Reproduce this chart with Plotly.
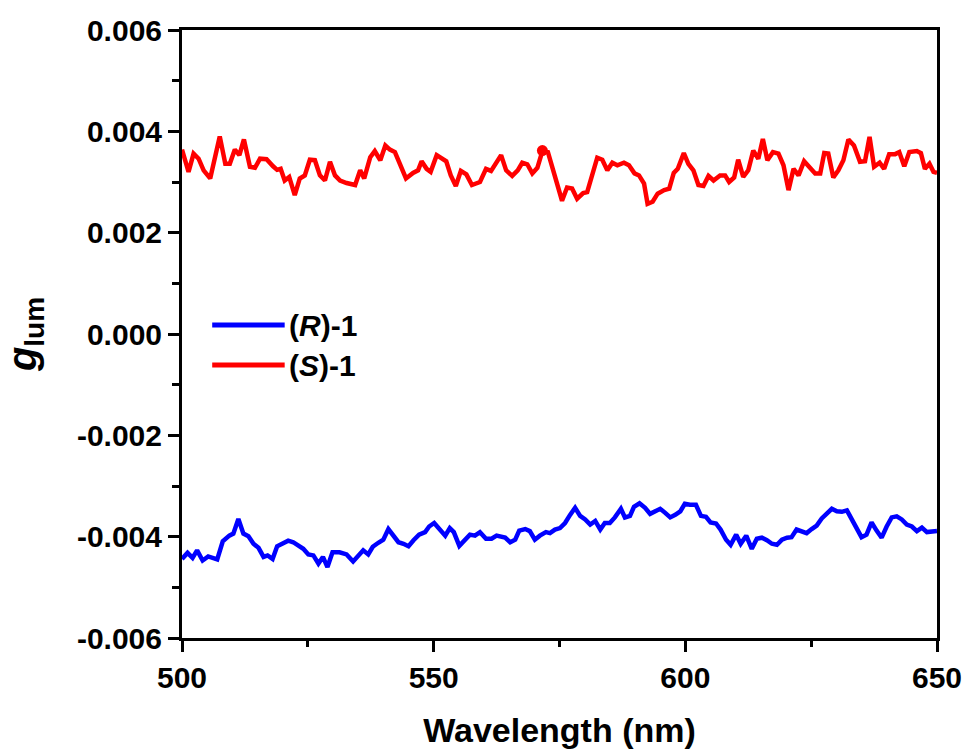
import plotly.graph_objects as go

# (S)-1 red series
s_x = [500.0, 501.3, 502.3, 503.3, 504.3, 505.6, 507.5, 508.6, 509.5, 510.5, 511.4, 512.3, 513.5, 514.5,
       515.5, 516.8, 518.1, 518.9, 519.6, 520.4, 521.3, 522.4, 523.4, 524.4, 525.4, 526.4, 527.4, 528.4,
       529.4, 530.4, 531.4, 532.7, 534.4, 535.4, 536.2, 537.4, 538.3, 539.4, 540.4, 541.3, 542.3, 543.3,
       544.5, 545.9, 546.9, 547.6, 548.6, 549.4, 550.6, 552.5, 553.4, 554.4, 555.4, 556.5, 557.6, 559.2,
       560.4, 561.4, 562.2, 563.4, 564.4, 565.6, 566.7, 567.6, 568.6, 569.6, 570.6, 571.6, 572.7, 573.9,
       575.5, 576.5, 577.5, 578.5, 579.7, 580.5, 581.7, 582.5, 583.5, 584.5, 585.5, 586.5, 587.8, 588.8,
       589.9, 590.8, 591.8, 592.5, 593.5, 594.5, 595.8, 596.8, 597.7, 598.5, 599.7, 600.6, 601.6, 602.6,
       603.6, 604.6, 605.6, 606.9, 607.9, 608.7, 609.7, 610.5, 611.5, 612.5, 613.5, 614.5, 615.4, 616.3,
       617.4, 618.5, 619.5, 620.5, 621.5, 622.5, 623.6, 624.8, 625.8, 626.8, 627.6, 628.4, 629.4, 630.4,
       631.4, 632.4, 633.5, 634.7, 635.7, 636.6, 637.5, 638.6, 639.5, 640.5, 641.7, 642.5, 643.5, 644.5,
       646.0, 646.8, 647.6, 648.5, 649.3, 650.0]
s_y = [0.00364, 0.00320, 0.00356, 0.00346, 0.00323, 0.00307, 0.00390, 0.00336, 0.00336, 0.00364, 0.00353,
       0.00384, 0.00330, 0.00328, 0.00346, 0.00345, 0.00331, 0.00324, 0.00326, 0.00303, 0.00310, 0.00274,
       0.00307, 0.00313, 0.00344, 0.00343, 0.00313, 0.00303, 0.00340, 0.00313, 0.00303, 0.00298, 0.00294,
       0.00323, 0.00307, 0.00349, 0.00361, 0.00343, 0.00372, 0.00364, 0.00359, 0.00333, 0.00307, 0.00318,
       0.00323, 0.00341, 0.00326, 0.00320, 0.00353, 0.00341, 0.00313, 0.00292, 0.00322, 0.00315, 0.00294,
       0.00300, 0.00326, 0.00322, 0.00333, 0.00353, 0.00323, 0.00312, 0.00323, 0.00338, 0.00335, 0.00317,
       0.00328, 0.00361, 0.00359, 0.00317, 0.00263, 0.00289, 0.00287, 0.00267, 0.00278, 0.00280, 0.00323,
       0.00348, 0.00344, 0.00323, 0.00338, 0.00333, 0.00338, 0.00333, 0.00317, 0.00313, 0.00297, 0.00257,
       0.00261, 0.00277, 0.00284, 0.00287, 0.00318, 0.00326, 0.00357, 0.00336, 0.00323, 0.00294, 0.00292,
       0.00312, 0.00303, 0.00313, 0.00313, 0.00300, 0.00309, 0.00344, 0.00310, 0.00323, 0.00362, 0.00346,
       0.00385, 0.00343, 0.00359, 0.00356, 0.00333, 0.00284, 0.00326, 0.00313, 0.00341, 0.00326, 0.00317,
       0.00317, 0.00357, 0.00356, 0.00309, 0.00323, 0.00343, 0.00384, 0.00372, 0.00340, 0.00341, 0.00389,
       0.00330, 0.00338, 0.00326, 0.00355, 0.00355, 0.00359, 0.00331, 0.00359, 0.00361, 0.00357, 0.00326,
       0.00336, 0.00320, 0.00318]

# stray dot on the red curve
dot_x = [571.6]
dot_y = [0.00362]

# (R)-1 blue series
r_x = [500.0, 501.1, 502.1, 503.0, 504.1, 505.2, 507.0, 508.1, 509.4, 510.2, 511.2, 512.2, 513.2, 514.2,
       515.2, 516.2, 517.0, 518.0, 518.9, 520.1, 521.1, 522.1, 523.1, 524.1, 525.1, 526.1, 527.1, 528.0,
       528.9, 529.9, 531.3, 532.7, 534.0, 535.0, 536.0, 537.0, 537.9, 539.0, 540.0, 541.0, 542.0, 543.0,
       544.0, 545.0, 546.0, 547.1, 548.3, 549.1, 550.1, 551.1, 552.3, 553.2, 554.0, 555.1, 556.2, 557.2,
       558.2, 559.2, 560.4, 561.5, 562.5, 564.2, 565.2, 566.2, 567.0, 568.2, 569.1, 570.1, 571.1, 572.3,
       573.1, 574.1, 575.1, 576.1, 577.1, 578.1, 579.1, 580.1, 581.1, 582.1, 583.1, 584.0, 585.0, 586.0,
       587.2, 588.0, 589.0, 589.8, 590.9, 592.0, 593.0, 594.0, 595.0, 596.0, 597.0, 598.0, 599.0, 599.9,
       600.9, 602.1, 603.1, 604.1, 605.0, 606.1, 607.0, 608.1, 609.0, 610.1, 611.0, 612.1, 613.2, 614.2,
       615.2, 616.2, 617.2, 618.2, 619.2, 620.2, 621.1, 622.1, 623.1, 624.1, 625.1, 626.1, 627.1, 628.1,
       629.1, 630.1, 631.1, 632.1, 633.1, 634.1, 635.0, 636.0, 637.0, 638.0, 639.0, 640.0, 641.0, 642.0,
       643.0, 644.0, 645.0, 646.0, 647.0, 648.0, 649.0, 650.0]
r_y = [-0.00444, -0.00432, -0.00442, -0.00427, -0.00447, -0.00439, -0.00445, -0.00409, -0.00398, -0.00394,
       -0.00365, -0.00394, -0.00399, -0.00414, -0.00422, -0.00440, -0.00437, -0.00444, -0.00419, -0.00414,
       -0.00408, -0.00411, -0.00418, -0.00424, -0.00435, -0.00437, -0.00453, -0.00440, -0.00460, -0.00431,
       -0.00431, -0.00435, -0.00449, -0.00439, -0.00427, -0.00435, -0.00420, -0.00412, -0.00406, -0.00385,
       -0.00399, -0.00411, -0.00414, -0.00419, -0.00407, -0.00396, -0.00391, -0.00380, -0.00373, -0.00385,
       -0.00398, -0.00383, -0.00391, -0.00418, -0.00407, -0.00396, -0.00398, -0.00391, -0.00404, -0.00404,
       -0.00398, -0.00402, -0.00411, -0.00406, -0.00388, -0.00385, -0.00389, -0.00406, -0.00398, -0.00391,
       -0.00393, -0.00386, -0.00383, -0.00373, -0.00357, -0.00343, -0.00359, -0.00366, -0.00376, -0.00369,
       -0.00386, -0.00373, -0.00373, -0.00362, -0.00345, -0.00362, -0.00359, -0.00341, -0.00334, -0.00343,
       -0.00355, -0.00350, -0.00345, -0.00353, -0.00362, -0.00357, -0.00350, -0.00335, -0.00337, -0.00337,
       -0.00359, -0.00361, -0.00372, -0.00374, -0.00386, -0.00406, -0.00416, -0.00396, -0.00414, -0.00398,
       -0.00424, -0.00404, -0.00402, -0.00407, -0.00414, -0.00416, -0.00406, -0.00402, -0.00401, -0.00386,
       -0.00389, -0.00393, -0.00385, -0.00378, -0.00364, -0.00353, -0.00345, -0.00350, -0.00351, -0.00348,
       -0.00366, -0.00386, -0.00401, -0.00396, -0.00372, -0.00388, -0.00402, -0.00380, -0.00362, -0.00360,
       -0.00366, -0.00376, -0.00380, -0.00389, -0.00382, -0.00391, -0.00389, -0.00389]

x_ticks = [500, 550, 600, 650]
y_ticks = [-0.006, -0.004, -0.002, 0.000, 0.002, 0.004, 0.006]
y_ticklabels = ["-0.006", "-0.004", "-0.002", "0.000", "0.002", "0.004", "0.006"]
legend_names = ["(<i>R</i>)-1", "(<i>S</i>)-1"]

BLUE = "#0000ff"
RED = "#ff0000"
FONT = "Liberation Sans, Arial, sans-serif"

fig = go.Figure()
fig.add_trace(go.Scatter(x=r_x, y=r_y, mode="lines", line=dict(color=BLUE, width=4.5),
                         showlegend=False, name="(R)-1"))
fig.add_trace(go.Scatter(x=s_x, y=s_y, mode="lines", line=dict(color=RED, width=4.5),
                         showlegend=False, name="(S)-1"))
fig.add_trace(go.Scatter(x=dot_x, y=dot_y, mode="markers", marker=dict(color=RED, size=11),
                         showlegend=False, hoverinfo="skip"))

axis_common = dict(
    showline=True, linecolor="black", linewidth=3, mirror=True,
    ticks="outside", ticklen=11, tickwidth=3, tickcolor="black",
    showgrid=False, zeroline=False, automargin=False,
    tickfont=dict(family=FONT, size=30, color="black", weight="bold"),
)

fig.update_xaxes(range=[500, 650], tickvals=x_ticks,
                 ticktext=[f"<b>{v}</b>" for v in x_ticks],
                 minor=dict(ticks="outside", ticklen=6, tickwidth=3, tickcolor="black", dtick=25, tick0=500),
                 title=dict(text="<b>Wavelength (nm)</b>", font=dict(family=FONT, size=34, color="black"),
                            standoff=26),
                 **axis_common)
fig.update_yaxes(range=[-0.006, 0.006], tickvals=y_ticks,
                 ticktext=[f"<b>{t}</b>" for t in y_ticklabels],
                 minor=dict(ticks="outside", ticklen=7, tickwidth=3, tickcolor="black", dtick=0.001, tick0=0),
                 title=dict(text="<b><i>g</i><sub>lum</sub></b>", font=dict(family=FONT, size=40, color="black"),
                            standoff=30),
                 **axis_common)

# manual legend (long line samples as in reference)
leg_y = [0.5148, 0.449]
leg_colors = [BLUE, RED]
for name, yy, col in zip(legend_names, leg_y, leg_colors):
    fig.add_shape(type="line", xref="paper", yref="paper", x0=0.040, x1=0.136, y0=yy, y1=yy,
                  line=dict(color=col, width=5))
    fig.add_annotation(xref="paper", yref="paper", x=0.139, y=yy, text=f"<b>{name}</b>",
                       showarrow=False, xanchor="left", yanchor="middle",
                       font=dict(family=FONT, size=30, color="black"))

fig.update_layout(
    width=968, height=749,
    margin=dict(l=182, r=31, t=30, b=111),
    paper_bgcolor="white", plot_bgcolor="white",
    font=dict(family=FONT, color="black"),
)

fig.write_html("out.html")
